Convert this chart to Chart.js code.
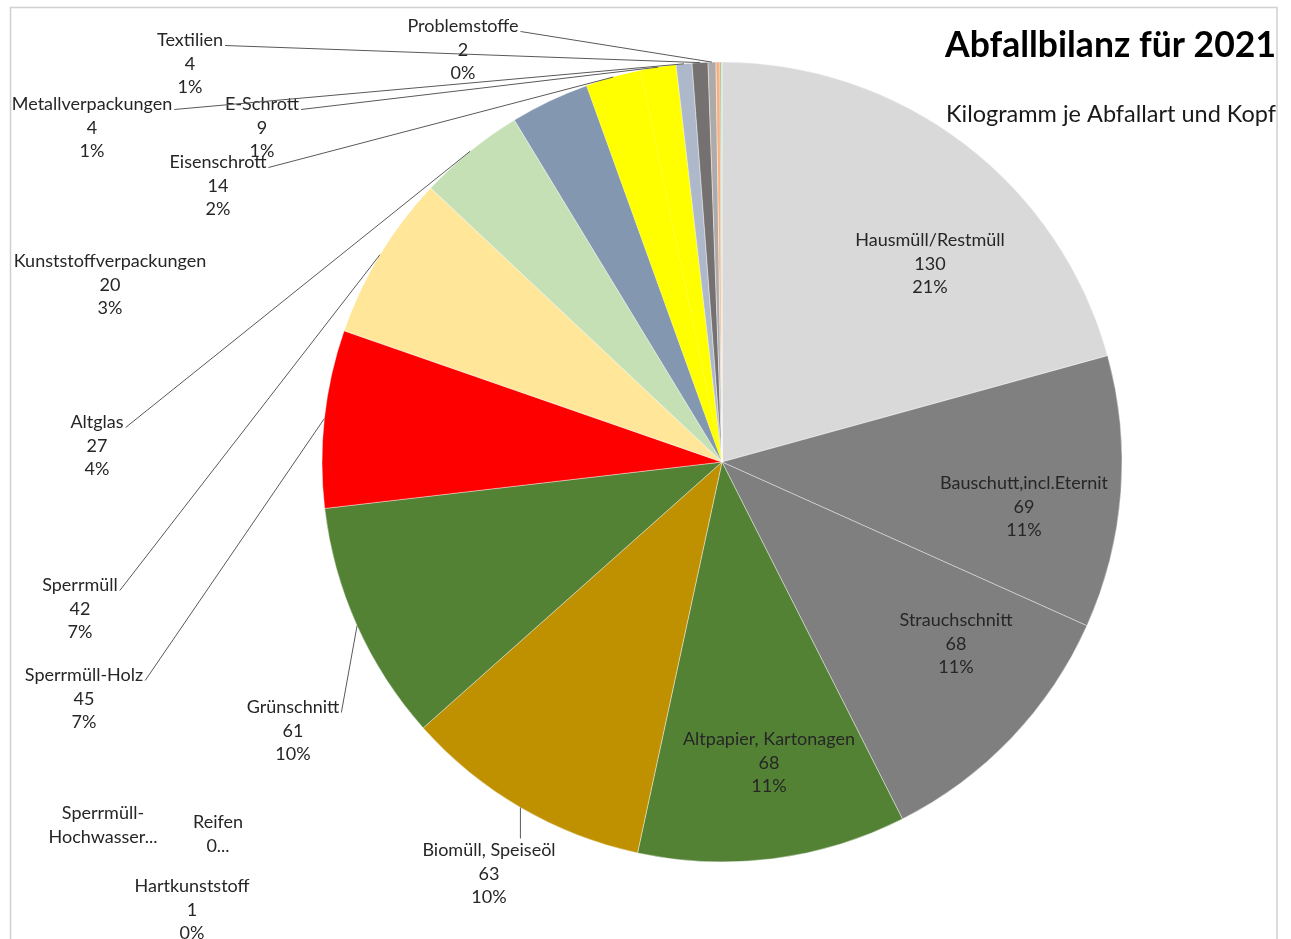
<!DOCTYPE html>
<html lang="de">
<head>
<meta charset="utf-8">
<title>Abfallbilanz für 2021</title>
<script src="https://cdn.jsdelivr.net/npm/chart.js@4.4.1/dist/chart.umd.min.js"></script>
<style>
    html, body { margin: 0; padding: 0; background: #fff; }
    #wrap { width: 1291px; height: 939px; position: relative; }
</style>
</head>
<body>
<div id="wrap"><canvas id="pie" width="1291" height="939"></canvas></div>
<script>
// kg per head and waste type, clockwise from 12 o'clock
const categories = [
    'Hausmüll/Restmüll', 'Bauschutt,incl.Eternit', 'Strauchschnitt', 'Altpapier, Kartonagen',
    'Biomüll, Speiseöl', 'Grünschnitt', 'Sperrmüll-Holz', 'Sperrmüll', 'Altglas',
    'Kunststoffverpackungen', 'Eisenschrott', 'E-Schrott', 'Metallverpackungen', 'Textilien',
    'Problemstoffe', 'Hartkunststoff', 'Reifen', 'Sperrmüll-Hochwasser'
];
const values = [130, 69, 68, 68, 63, 61, 45, 42, 27, 20, 14, 9, 4, 4, 2, 1, 0.3, 0.2];
const sliceColors = [
    '#D9D9D9', '#808080', '#7F7F7F', '#548235', '#BF9000', '#548235', '#FF0000', '#FFE699', '#C5E0B4',
    '#8497B0', '#FFFF00', '#FFFF00', '#ADB9CA', '#767171', '#AEAAAA', '#F4B183', '#70AD47', '#C9C9C9'
];

// label block centre, in pie radii from the pie centre (hand placed like in the workbook)
const labelPos = [
    [0.52, -0.495], [0.755, 0.1125], [0.585, 0.455], [0.1175, 0.7525],
    [-0.5825, 1.03], [-1.0725, 0.6725], [-1.595, 0.5925], [-1.605, 0.3675], [-1.5625, -0.04],
    [-1.53, -0.4425], [-1.26, -0.69], [-1.15, -0.835], [-1.575, -0.835], [-1.33, -0.995],
    [-0.6475, -1.03], [-1.325, 1.12], [-1.26, 0.93], [-1.5475, 0.9075]
];
const hasLeader = [false, false, false, false, true, true, true, true, true,
    false, true, true, true, true, true, false, false, false];
// labels Excel cut short
const labelOverride = { 16: ['Reifen', '0...'], 17: ['Sperrmüll-', 'Hochwasser...'] };

document.addEventListener('DOMContentLoaded', () => {
    const total = values.reduce((a, b) => a + b, 0);
    const lineH = 23.5;

    const framePlugin = {
        id: 'frame',
        beforeDraw(chart) {
            const ctx = chart.ctx;
            ctx.save();
            ctx.strokeStyle = '#D0D0D0';
            ctx.lineWidth = 1.5;
            ctx.strokeRect(10.5, 7.5, 1266.5, 960);
            ctx.restore();
        },
        afterDraw(chart) {
            const ctx = chart.ctx;
            ctx.save();
            ctx.beginPath();
            ctx.rect(11, 8, 1265, 931);
            ctx.clip();
            ctx.fillStyle = '#000';
            ctx.textAlign = 'left';
            ctx.textBaseline = 'alphabetic';
            ctx.font = 'bold 37px Lato';
            ctx.fillText('Abfallbilanz für 2021', 945, 57, 331);
            ctx.font = '23.5px Lato';
            ctx.fillStyle = '#1A1A1A';
            ctx.fillText('Kilogramm je Abfallart und Kopf', 946, 122);
            ctx.restore();
        }
    };

    const labelPlugin = {
        id: 'sliceLabels',
        afterDatasetsDraw(chart) {
            const ctx = chart.ctx;
            const meta = chart.getDatasetMeta(0);
            ctx.save();
            ctx.font = '18px Lato';
            ctx.fillStyle = '#262626';
            ctx.textAlign = 'center';
            ctx.textBaseline = 'middle';
            meta.data.forEach((arc, i) => {
                const { x, y, startAngle, endAngle, outerRadius } = arc.getProps(['x', 'y', 'startAngle', 'endAngle', 'outerRadius'], true);
                const lines = labelOverride[i] || [categories[i], String(values[i]), Math.round(values[i] / total * 100) + '%'];
                const lx = x + labelPos[i][0] * outerRadius;
                const ly = y + labelPos[i][1] * outerRadius;
                const firstY = ly - (lines.length - 1) / 2 * lineH;

                if (hasLeader[i]) {
                    const mid = (startAngle + endAngle) / 2;
                    const ex = x + Math.cos(mid) * outerRadius;
                    const ey = y + Math.sin(mid) * outerRadius;
                    const w0 = ctx.measureText(lines[0]).width;
                    const maxW = Math.max(...lines.map(t => ctx.measureText(t).width));
                    let sx, sy;
                    if (ey < firstY - 10 && ex > lx - maxW / 2 && ex < lx + maxW / 2) {
                        sx = ex;
                        sy = firstY - 12;
                    } else {
                        sx = lx + w0 / 2 + 2;
                        sy = firstY + 5;
                    }
                    ctx.beginPath();
                    ctx.strokeStyle = '#595959';
                    ctx.lineWidth = 1;
                    ctx.moveTo(sx, sy);
                    ctx.lineTo(ex, ey);
                    ctx.stroke();
                }

                lines.forEach((t, k) => ctx.fillText(t, lx, firstY + k * lineH));
            });
            ctx.restore();
        }
    };

    new Chart(document.getElementById('pie'), {
        type: 'pie',
        data: {
            labels: categories,
            datasets: [{
                data: values,
                backgroundColor: sliceColors,
                borderColor: '#FFFFFF',
                // the two yellow slices read as one piece in the original
                borderWidth: values.map((v, i) => (i === 10 || i === 11) ? 0 : 0.4)
            }]
        },
        options: {
            responsive: false,
            animation: false,
            radius: 400,
            layout: { padding: { left: 183, right: 30, top: 20, bottom: 35 } },
            plugins: {
                legend: { display: false },
                tooltip: { enabled: false }
            }
        },
        plugins: [framePlugin, labelPlugin]
    });
});
</script>
</body>
</html>
